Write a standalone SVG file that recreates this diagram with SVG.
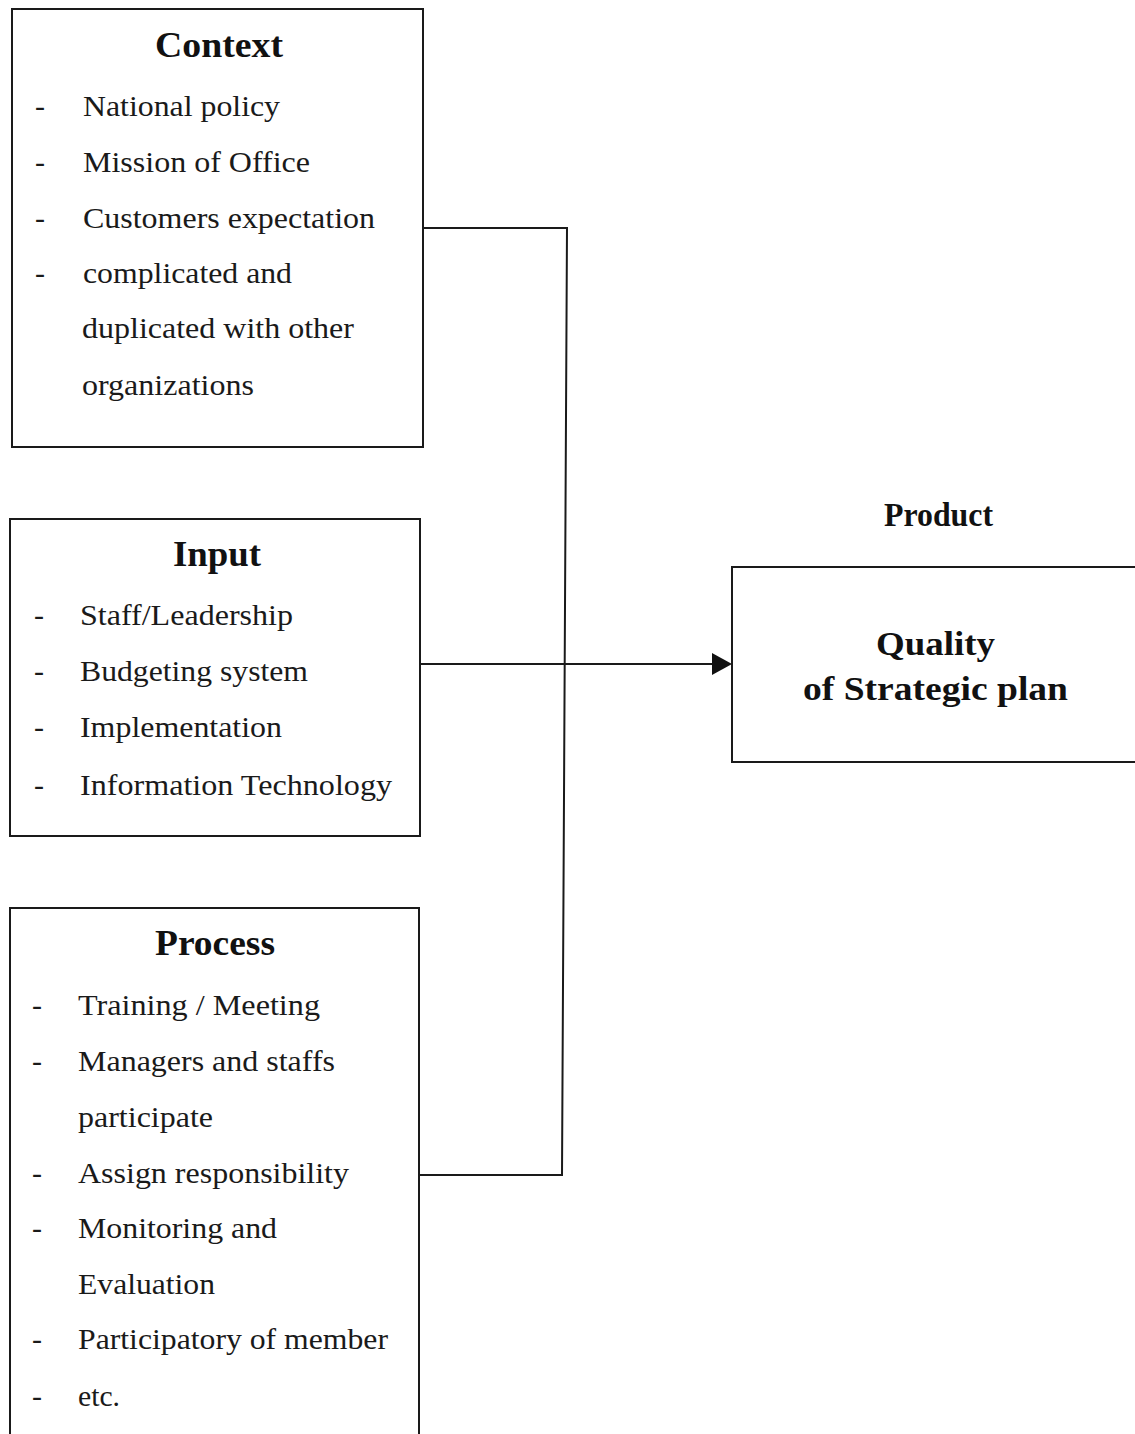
<svg xmlns="http://www.w3.org/2000/svg" width="1135" height="1434" viewBox="0 0 1135 1434">
<style>
.box{fill:none;stroke:#1a1a1a;stroke-width:2}
.conn{fill:none;stroke:#1a1a1a;stroke-width:2}
.t{font-family:"Liberation Serif","Times New Roman",serif;font-size:30px;fill:#1a1a1a}
.h{font-family:"Liberation Serif","Times New Roman",serif;font-size:35px;font-weight:bold;fill:#111}
.p{font-family:"Liberation Serif","Times New Roman",serif;font-size:34px;font-weight:bold;fill:#111}
</style>
<defs>
<marker id="arr" viewBox="0 0 10 10" refX="10" refY="5" markerWidth="10" markerHeight="10" markerUnits="userSpaceOnUse" orient="auto">
<path d="M0,0 L10,5 L0,10 Z" fill="#111"/>
</marker>
</defs>
<rect width="1135" height="1434" fill="#fff"/>
<g id="connectors">
<path class="conn" d="M423,228 H567 L562,1175 H418"/>
<path class="conn" d="M420,664 H712"/>
<path d="M712,653 L732,664 L712,675 Z" fill="#111"/>
</g>
<g id="context">
<rect class="box" x="12" y="9" width="411" height="438"/>
<text class="h" x="155" y="57" textLength="128" lengthAdjust="spacingAndGlyphs">Context</text>
<text class="t" x="35" y="116">-</text><text class="t" x="83" y="116" textLength="197" lengthAdjust="spacingAndGlyphs">National policy</text>
<text class="t" x="35" y="172">-</text><text class="t" x="83" y="172" textLength="227" lengthAdjust="spacingAndGlyphs">Mission of Office</text>
<text class="t" x="35" y="228">-</text><text class="t" x="83" y="228" textLength="292" lengthAdjust="spacingAndGlyphs">Customers expectation</text>
<text class="t" x="35" y="283">-</text><text class="t" x="83" y="283" textLength="209" lengthAdjust="spacingAndGlyphs">complicated and</text>
<text class="t" x="82" y="338" textLength="272" lengthAdjust="spacingAndGlyphs">duplicated with other</text>
<text class="t" x="82" y="395" textLength="172" lengthAdjust="spacingAndGlyphs">organizations</text>
</g>
<g id="input">
<rect class="box" x="10" y="519" width="410" height="317"/>
<text class="h" x="173" y="566" textLength="88" lengthAdjust="spacingAndGlyphs">Input</text>
<text class="t" x="34" y="625">-</text><text class="t" x="80" y="625" textLength="213" lengthAdjust="spacingAndGlyphs">Staff/Leadership</text>
<text class="t" x="34" y="681">-</text><text class="t" x="80" y="681" textLength="228" lengthAdjust="spacingAndGlyphs">Budgeting system</text>
<text class="t" x="34" y="737">-</text><text class="t" x="80" y="737" textLength="202" lengthAdjust="spacingAndGlyphs">Implementation</text>
<text class="t" x="34" y="795">-</text><text class="t" x="80" y="795" textLength="312" lengthAdjust="spacingAndGlyphs">Information Technology</text>
</g>
<g id="process">
<path class="box" d="M10,1440 V908 H419 V1440"/>
<text class="h" x="155" y="955" textLength="120" lengthAdjust="spacingAndGlyphs">Process</text>
<text class="t" x="32" y="1015">-</text><text class="t" x="78" y="1015" textLength="242" lengthAdjust="spacingAndGlyphs">Training / Meeting</text>
<text class="t" x="32" y="1071">-</text><text class="t" x="78" y="1071" textLength="257" lengthAdjust="spacingAndGlyphs">Managers and staffs</text>
<text class="t" x="78" y="1127" textLength="135" lengthAdjust="spacingAndGlyphs">participate</text>
<text class="t" x="32" y="1183">-</text><text class="t" x="78" y="1183" textLength="271" lengthAdjust="spacingAndGlyphs">Assign responsibility</text>
<text class="t" x="32" y="1238">-</text><text class="t" x="78" y="1238" textLength="199" lengthAdjust="spacingAndGlyphs">Monitoring and</text>
<text class="t" x="78" y="1294" textLength="137" lengthAdjust="spacingAndGlyphs">Evaluation</text>
<text class="t" x="32" y="1349">-</text><text class="t" x="78" y="1349" textLength="310" lengthAdjust="spacingAndGlyphs">Participatory of member</text>
<text class="t" x="32" y="1406">-</text><text class="t" x="78" y="1406" textLength="42" lengthAdjust="spacingAndGlyphs">etc.</text>
</g>
<g id="product">
<text class="p" x="884" y="526" font-size="27" textLength="109" lengthAdjust="spacingAndGlyphs">Product</text>
<path class="box" d="M1140,567 H732 V762 H1140"/>
<text class="p" x="876" y="655" textLength="119" lengthAdjust="spacingAndGlyphs">Quality</text>
<text class="p" x="803" y="700" textLength="265" lengthAdjust="spacingAndGlyphs">of Strategic plan</text>
</g>
</svg>
